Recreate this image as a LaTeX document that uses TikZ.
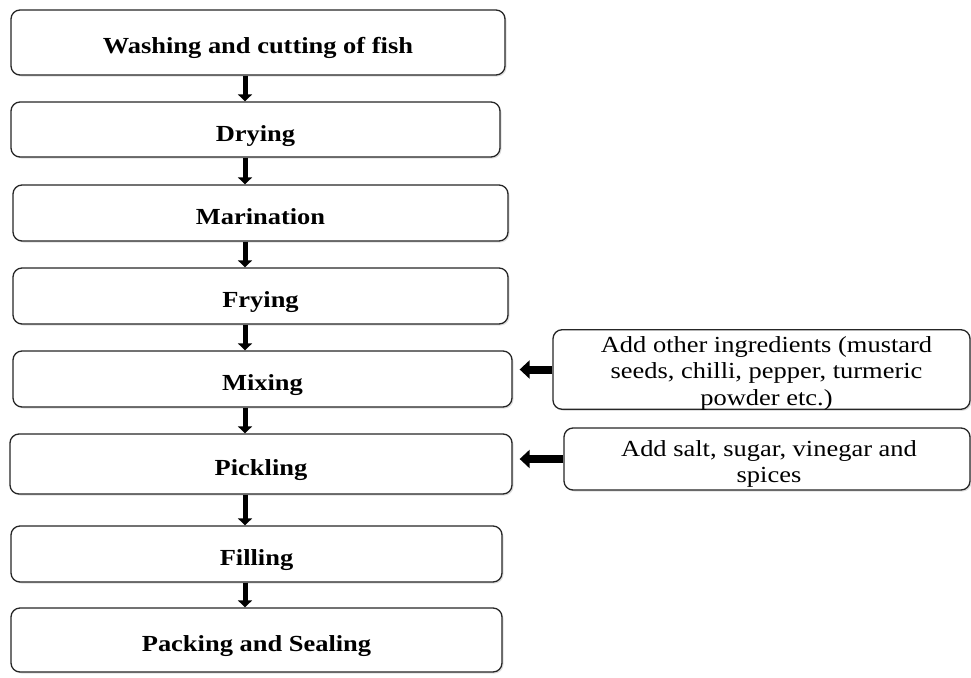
\documentclass[tikz,border=0pt]{standalone}
\usepackage{fontspec}
\setmainfont{Liberation Serif}[FakeStretch=1.15]
\usetikzlibrary{arrows.meta,shadows}
\begin{document}
\begin{tikzpicture}[x=1pt,y=-1pt,
 basebox/.style={draw=black!85, line width=1.3pt, rounded corners=9pt, fill=white, inner sep=0pt,
   drop shadow={shadow xshift=1.5pt, shadow yshift=-1.5pt, opacity=0.25}},
 stepbox/.style={basebox, font=\fontsize{23}{27}\selectfont\bfseries, text height=23pt, text depth=0pt},
 sidebox/.style={basebox, font=\fontsize{23}{26.5}\selectfont},
 flow/.style={line width=5pt, -{Triangle[width=14pt,length=7pt]}},
 sideflow/.style={line width=8pt, -{Triangle[width=18pt,length=10pt]}, shorten >=7pt}
]
\useasboundingbox (0,0) rectangle (971,677);
\node[stepbox, minimum width=494pt, minimum height=65pt] (b1) at (258,42.5) {Washing and cutting of fish};
\node[stepbox, minimum width=489pt, minimum height=55pt] (b2) at (255.5,129.5) {Drying};
\node[stepbox, minimum width=495pt, minimum height=56pt] (b3) at (260.5,213) {Marination};
\node[stepbox, minimum width=495pt, minimum height=56pt] (b4) at (260.5,296) {Frying};
\node[stepbox, minimum width=499pt, minimum height=56pt] (b5) at (262.5,379) {Mixing};
\node[stepbox, minimum width=502pt, minimum height=60pt] (b6) at (261,464) {Pickling};
\node[stepbox, minimum width=491pt, minimum height=56pt] (b7) at (256.5,554) {Filling};
\node[stepbox, minimum width=491pt, minimum height=64pt] (b8) at (256.5,640) {Packing and Sealing};
\node[sidebox, minimum width=417pt, minimum height=75pt] (sa) at (761.5,369.5)
  {\hspace{10pt}\raisebox{-4pt}[\height][\depth]{\begin{tabular}{@{}c@{}}Add other ingredients (mustard\\ seeds, chilli, pepper, turmeric\\ powder etc.)\end{tabular}}};
\node[sidebox, minimum width=406pt, minimum height=62pt] (sb) at (767,459)
  {\hspace{4pt}\raisebox{-5pt}[\height][\depth]{\begin{tabular}{@{}c@{}}Add salt, sugar, vinegar and\\ spices\end{tabular}}};
\coordinate (ax) at (245,0);
\draw[flow] (b1.south -| ax) -- (b2.north -| ax);
\draw[flow] (b2.south -| ax) -- (b3.north -| ax);
\draw[flow] (b3.south -| ax) -- (b4.north -| ax);
\draw[flow] (b4.south -| ax) -- (b5.north -| ax);
\draw[flow] (b5.south -| ax) -- (b6.north -| ax);
\draw[flow] (b6.south -| ax) -- (b7.north -| ax);
\draw[flow] (b7.south -| ax) -- (b8.north -| ax);
\draw[sideflow] (sa.west) -- (sa.west -| b5.east);
\draw[sideflow] (sb.west) -- (sb.west -| b6.east);
\end{tikzpicture}
\end{document}
